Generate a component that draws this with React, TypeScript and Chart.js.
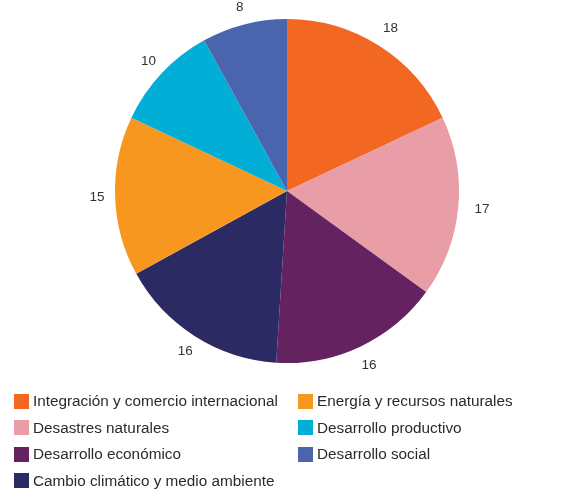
import React, { useEffect, useRef } from "react";
import { Chart, registerables } from "chart.js";

Chart.register(...registerables);

const categories = [
  "Integración y comercio internacional",
  "Desastres naturales",
  "Desarrollo económico",
  "Cambio climático y medio ambiente",
  "Energía y recursos naturales",
  "Desarrollo productivo",
  "Desarrollo social",
];
const values = [18, 17, 16, 16, 15, 10, 8];
const colors = ["#F26722", "#E99DA6", "#652261", "#2B2A63", "#F8971F", "#00AED6", "#4A65AE"];

const FONT = "'Liberation Sans', Arial, sans-serif";

const labelPlugin = {
  id: "outerLabels",
  afterDatasetsDraw(chart: any) {
    const ctx = chart.ctx;
    const meta = chart.getDatasetMeta(0);
    ctx.save();
    ctx.font = `13.5px ${FONT}`;
    ctx.fillStyle = "#333333";
    ctx.textAlign = "center";
    ctx.textBaseline = "middle";
    meta.data.forEach((arc: any, i: number) => {
      const p = arc.getProps(["x", "y", "startAngle", "endAngle", "outerRadius"], true);
      const mid = (p.startAngle + p.endAngle) / 2;
      const d = p.outerRadius + 18 + 6 * Math.max(0, Math.cos(mid));
      const x = p.x + Math.cos(mid) * d;
      const y = p.y + Math.sin(mid) * d;
      ctx.fillText(String(values[i]), x, y);
    });
    ctx.restore();
  },
};

function Legend() {
  const col1 = [0, 1, 2, 3];
  const col2 = [4, 5, 6];
  const item = (i: number) => (
    <div key={i} style={{ display: "flex", alignItems: "center", height: 26.5 }}>
      <span style={{ display: "inline-block", width: 15, height: 15, background: colors[i], marginRight: 4, flexShrink: 0 }} />
      <span style={{ whiteSpace: "nowrap" }}>{categories[i]}</span>
    </div>
  );
  return (
    <div
      style={{
        position: "absolute",
        left: 14,
        top: 388,
        display: "flex",
        fontFamily: FONT,
        fontSize: 15.3,
        color: "#2a2a2a",
      }}
    >
      <div style={{ width: 284 }}>{col1.map(item)}</div>
      <div>{col2.map(item)}</div>
    </div>
  );
}

export default function App() {
  const ref = useRef<HTMLCanvasElement>(null);
  useEffect(() => {
    document.body.style.margin = "0";
    const chart = new Chart(ref.current!, {
      type: "pie",
      data: {
        labels: categories,
        datasets: [{ data: values, backgroundColor: colors, borderWidth: 0 }],
      },
      options: {
        responsive: false,
        animation: false,
        layout: { padding: { left: 9, right: 0, top: 19, bottom: 126 } },
        plugins: { legend: { display: false }, tooltip: { enabled: false } },
      },
      plugins: [labelPlugin],
    });
    return () => chart.destroy();
  }, []);
  return (
    <div style={{ position: "relative", width: 565, height: 489, background: "#fff" }}>
      <canvas ref={ref} width={565} height={489} style={{ position: "absolute", left: 0, top: 0 }} />
      <Legend />
    </div>
  );
}
